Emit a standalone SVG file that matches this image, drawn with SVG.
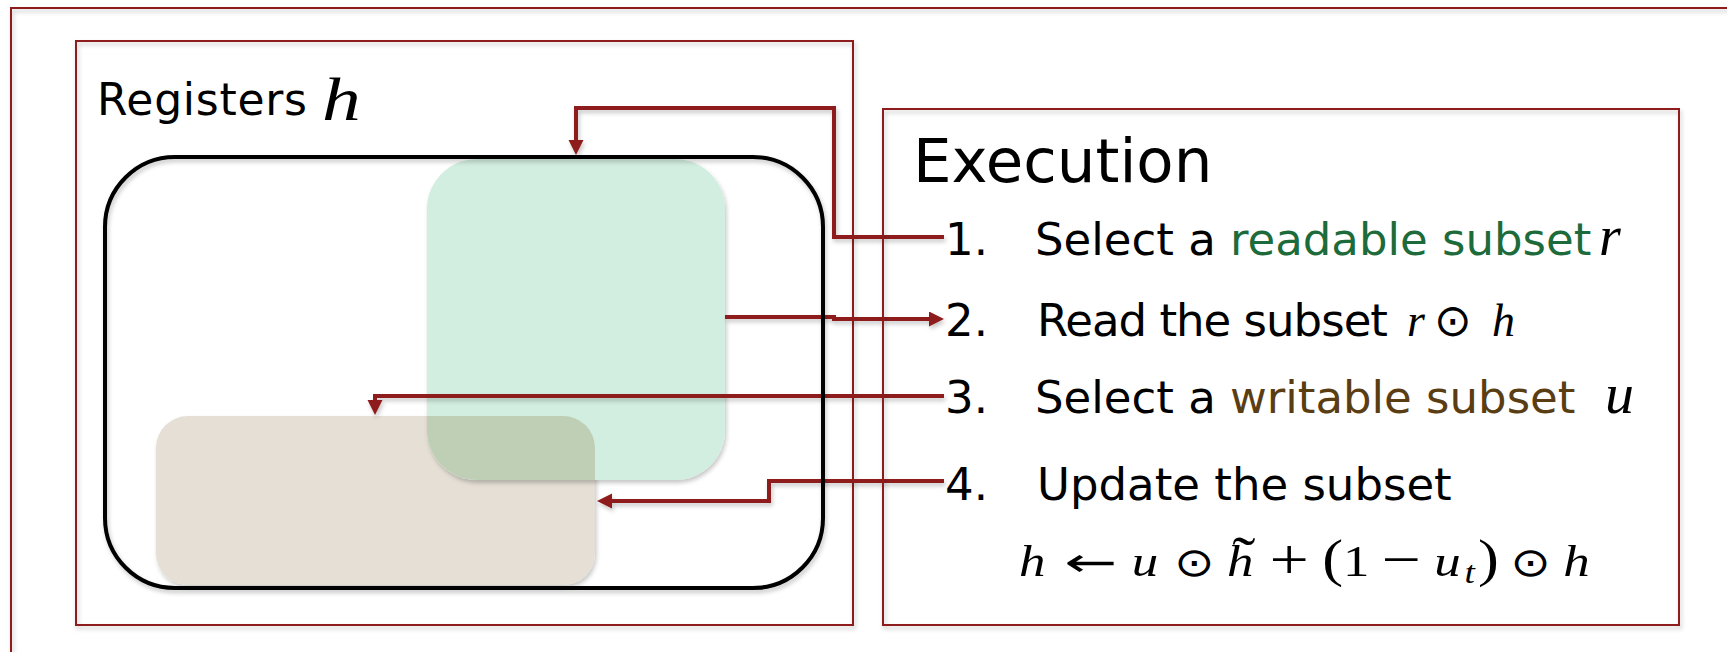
<svg xmlns="http://www.w3.org/2000/svg" width="1727" height="652" viewBox="0 0 1727 652">
<style>
.frame{fill:none;stroke:#8E1B1B;stroke-width:2}
.conn{fill:none;stroke:#8E1B1B;stroke-width:4}
.sans{font-family:"DejaVu Sans","Liberation Sans",sans-serif;fill:#000}
.math{font-family:"Liberation Serif","DejaVu Serif",serif;font-style:italic;fill:#000}
.rm{font-family:"Liberation Serif","DejaVu Serif",serif;fill:#000}
.sym{font-family:"DejaVu Sans",sans-serif;fill:#000}
</style>
<defs>
<filter id="sh" x="-5%" y="-5%" width="110%" height="115%">
<feDropShadow dx="1.5" dy="3" stdDeviation="2" flood-color="#000" flood-opacity="0.22"/>
</filter>
<marker id="ah" markerUnits="userSpaceOnUse" markerWidth="16" markerHeight="16" refX="1" refY="7.5" orient="auto">
<path d="M0,0 L15,7.5 L0,15 z" fill="#8E1B1B"/>
</marker>
<clipPath id="greenClip"><rect x="427" y="159" width="298" height="321" rx="50"/></clipPath>
</defs>
<rect width="1727" height="652" fill="#fff"/>

<g id="outer-frame" filter="url(#sh)"><rect class="frame" x="11" y="8" width="1800" height="720"/></g>

<g id="registers-panel">
<rect class="frame" x="76" y="41" width="777" height="584" filter="url(#sh)"/>
<text class="sans" x="97" y="115" font-size="44" textLength="210" lengthAdjust="spacing">Registers</text>
<text class="math" transform="translate(322,120) scale(1.25,1)" font-size="62">h</text>
</g>

<g id="register-set">
<rect x="105" y="157" width="718" height="431" rx="70" fill="#fff" stroke="none"/>
</g>

<g id="writable-subset" filter="url(#sh)">
<rect x="156" y="416" width="439" height="169" rx="32" fill="#E5DFD5"/>
</g>
<g id="readable-subset" filter="url(#sh)">
<rect x="427" y="159" width="298" height="321" rx="50" fill="#D2EEE0"/>
</g>
<g id="overlap">
<rect x="156" y="416" width="439" height="169" rx="32" fill="#BFCFB6" clip-path="url(#greenClip)"/>
</g>

<g id="connectors" filter="url(#sh)">
<path class="conn" d="M944 237 H834 V108 H576 V141" marker-end="url(#ah)"/>
<path class="conn" d="M725 317 H834 V319 H930" marker-end="url(#ah)"/>
<path class="conn" d="M944 396 H375 V401" marker-end="url(#ah)"/>
<path class="conn" d="M944 481 H769 V501 H611" marker-end="url(#ah)"/>
</g>

<g id="register-set-outline" filter="url(#sh)">
<rect x="105" y="157" width="718" height="431" rx="70" fill="none" stroke="#000" stroke-width="4"/>
</g>

<g id="execution-panel">
<rect class="frame" x="883" y="109" width="796" height="516" filter="url(#sh)"/>
<text class="sans" x="913" y="182" font-size="61">Execution</text>

<text class="sans" x="945" y="255" font-size="45">1.</text>
<text class="sans" x="1035" y="255" font-size="45">Select a <tspan fill="#1D6B3A">readable subset</tspan></text>
<text class="math" x="1599" y="255" font-size="56">r</text>

<text class="sans" x="945" y="336" font-size="45">2.</text>
<text class="sans" x="1037" y="336" font-size="45" textLength="351" lengthAdjust="spacing">Read the subset</text>
<text class="math" x="1407" y="336" font-size="46">r</text>
<text class="sym" x="1434" y="336" font-size="45">⊙</text>
<text class="math" x="1492" y="336" font-size="46">h</text>

<text class="sans" x="945" y="413" font-size="45">3.</text>
<text class="sans" x="1035" y="413" font-size="45">Select a <tspan fill="#5A3D12">writable subset</tspan></text>
<text class="math" x="1605" y="413" font-size="58">u</text>

<text class="sans" x="945" y="500" font-size="45">4.</text>
<text class="sans" x="1037" y="500" font-size="45">Update the subset</text>

<g id="update-formula" transform="translate(1019,576) scale(1.2045,1)">
<text class="math" x="0" y="0" font-size="44">h</text>
<text class="sym" x="37.5" y="0" font-size="40" textLength="44" lengthAdjust="spacingAndGlyphs">←</text>
<text class="math" x="93.7" y="0" font-size="44">u</text>
<text class="sym" x="128.7" y="0" font-size="40">⊙</text>
<text class="math" x="172.7" y="0" font-size="44">h</text>
<text class="rm" x="177" y="0" font-size="58">˜</text>
<text class="rm" x="208" y="3" font-size="58">+</text>
<text class="rm" x="251.8" y="0" font-size="52">(</text>
<text class="rm" x="268.9" y="0" font-size="44">1</text>
<text class="rm" x="301" y="3" font-size="58">−</text>
<text class="math" x="344.7" y="0" font-size="44">u</text>
<text class="math" x="369.9" y="7" font-size="31">t</text>
<text class="rm" x="381" y="0" font-size="52">)</text>
<text class="sym" x="407.9" y="0" font-size="40">⊙</text>
<text class="math" x="451.9" y="0" font-size="44">h</text>
</g>
</g>
</svg>
